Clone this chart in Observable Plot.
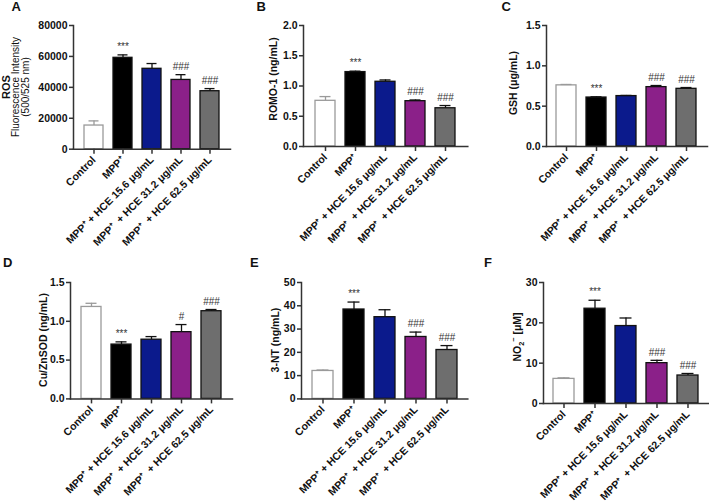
<!DOCTYPE html>
<html><head><meta charset="utf-8">
<script src="https://cdn.jsdelivr.net/npm/d3@7"></script>
<script src="https://cdn.jsdelivr.net/npm/@observablehq/plot@0.6"></script>
<style>
body{margin:0;background:#fff;}
#fig{position:relative;width:709px;height:502px;overflow:hidden;font-family:"Liberation Sans",Arial,sans-serif;background:#fff;}
.panel{position:absolute;}
.letter{position:absolute;font-weight:bold;font-size:13px;line-height:13px;color:#111;}
.ytitle{position:absolute;white-space:nowrap;color:#111;line-height:1;transform:translate(-50%,-50%) rotate(-90deg);}
.ytitle sub,.ytitle sup{font-size:70%;line-height:0;}
</style></head><body><div id="fig"></div>
<script>
// ---- data ----
const categories = ["Control", "MPP⁺", "MPP⁺ + HCE 15.6 μg/mL", "MPP⁺\u00a0 + HCE 31.2 μg/mL", "MPP⁺\u00a0 + HCE 62.5 μg/mL"];
const barFills = ["#ffffff", "#000000", "#0b1a8c", "#8b2089", "#6e6e6e"];
const barStrokes = ["#9a9a9a", "#111111", "#111111", "#111111", "#111111"];

const rosMean = [15300, 59100, 52000, 44800, 37500];
const rosSem = [3000, 1900, 3400, 3400, 1700];
const rosSig = ["", "***", "", "###", "###"];
const rosTicks = [0, 20000, 40000, 60000, 80000];

const romoMean = [0.755, 1.23, 1.07, 0.749, 0.632];
const romoSem = [0.07, 0.015, 0.03, 0.02, 0.045];
const romoSig = ["", "***", "", "###", "###"];
const romoTicks = [0, 0.5, 1.0, 1.5, 2.0];

const gshMean = [0.758, 0.607, 0.625, 0.736, 0.715];
const gshSem = [0.011, 0.009, 0.008, 0.02, 0.016];
const gshSig = ["", "***", "", "###", "###"];
const gshTicks = [0, 0.5, 1.0, 1.5];

const sodMean = [1.185, 0.70, 0.763, 0.860, 1.130];
const sodSem = [0.047, 0.035, 0.04, 0.098, 0.022];
const sodSig = ["", "***", "", "#", "###"];
const sodTicks = [0, 0.5, 1.0, 1.5];

const ntMean = [12.0, 38.4, 35.1, 26.6, 21.0];
const ntSem = [0.4, 3.2, 3.2, 2.1, 1.9];
const ntSig = ["", "***", "", "###", "###"];
const ntTicks = [0, 10, 20, 30, 40, 50];

const no2Mean = [6.1, 23.5, 19.2, 10.0, 6.94];
const no2Sem = [0.26, 2.1, 2.0, 0.7, 0.5];
const no2Sig = ["", "***", "", "###", "###"];
const no2Ticks = [0, 10, 20, 30];

const f1 = d3.format(".1f"), f0 = d => String(d);

const panels = [
  {letter: "A", mean: rosMean, sem: rosSem, sig: rosSig, ticks: rosTicks, fmt: f0,
   titles: [["ROS", "bold", 11, 6, 87], ["Fluorescence Intensity", "normal", 10, 15.5, 87], ["(500/525 nm)", "normal", 10, 26, 87]],
   axisX: 73, yTop: 25, y0: 148.7, xEnd: 230, lx: 11.5, ly: 0},
  {letter: "B", mean: romoMean, sem: romoSem, sig: romoSig, ticks: romoTicks, fmt: f1,
   titles: [["ROMO-1 (ng/mL)", "bold", 10.5, 273.3, 79]],
   axisX: 302.7, yTop: 25, y0: 146, xEnd: 467, lx: 256.5, ly: 0},
  {letter: "C", mean: gshMean, sem: gshSem, sig: gshSig, ticks: gshTicks, fmt: f1,
   titles: [["GSH (μg/mL)", "bold", 10.5, 513.3, 83]],
   axisX: 546, yTop: 25, y0: 146, xEnd: 707, lx: 501.5, ly: 0},
  {letter: "D", mean: sodMean, sem: sodSem, sig: sodSig, ticks: sodTicks, fmt: f1,
   titles: [["Cu/ZnSOD (ng/mL)", "bold", 10.5, 43.3, 340]],
   axisX: 70, yTop: 282.3, y0: 398.7, xEnd: 232, lx: 3, ly: 256.3},
  {letter: "E", mean: ntMean, sem: ntSem, sig: ntSig, ticks: ntTicks, fmt: f0,
   titles: [["3-NT (ng/mL)", "bold", 10.5, 275, 340]],
   axisX: 300.7, yTop: 282.3, y0: 398.7, xEnd: 467, lx: 250, ly: 256.3},
  {letter: "F", mean: no2Mean, sem: no2Sem, sig: no2Sig, ticks: no2Ticks, fmt: f0,
   titles: [["NO<sub>2</sub><sup>−</sup> [μM]", "bold", 10.5, 516.7, 337]],
   axisX: 543.3, yTop: 282.3, y0: 403.3, xEnd: 709, lx: 484, ly: 256.3}
];

const fig = document.getElementById("fig");
const font = '"Liberation Sans", Arial, sans-serif';

for (const p of panels) {
  const ml = 70, mt = 22, mb = 100, mr = 4;
  const plotW = p.xEnd - p.axisX, plotH = p.y0 - p.yTop;
  const W = ml + plotW + mr, H = mt + plotH + mb;
  const data = categories.map((c, i) => ({
    cat: c, mean: p.mean[i], top: p.mean[i] + p.sem[i], sig: p.sig[i],
    fill: barFills[i], stroke: barStrokes[i]
  }));
  const yMax = p.ticks[p.ticks.length - 1];
  const chart = Plot.plot({
    width: W, height: H, marginLeft: ml, marginRight: mr, marginTop: mt, marginBottom: mb,
    style: {background: "transparent", overflow: "visible", fontFamily: font, color: "#222", maxWidth: "none"},
    x: {domain: categories, paddingInner: 0.33, paddingOuter: 0.33, axis: null},
    y: {domain: [0, yMax], axis: null},
    marks: [
      Plot.ruleX(data, {x: "cat", y1: "mean", y2: "top", stroke: "stroke", strokeWidth: 1.3}),
      Plot.barY(data, {x: "cat", y: "mean", fill: "fill", stroke: "stroke", strokeWidth: 1.3}),
      Plot.tickY(data, {x: "cat", y: "top", stroke: "stroke", strokeWidth: 1.3, insetLeft: 4.5, insetRight: 4.5}),
      Plot.text(data, {x: "cat", y: "top", text: "sig", dy: -8, fontSize: 10, fill: "#333"}),
      Plot.axisY({ticks: p.ticks, tickFormat: p.fmt, tickSize: 4, tickPadding: 2, fontSize: 10.5, fontWeight: "bold", label: null, stroke: "#333", strokeWidth: 1.5, fill: "#111"}),
      Plot.axisX({tickRotate: -45, tickSize: 5, tickPadding: 4, fontSize: 10.5, fontWeight: "bold", label: null, stroke: "#333", strokeWidth: 1.5, fill: "#111"}),
      Plot.frame({anchor: "left", stroke: "#333", strokeWidth: 1.5}),
      Plot.frame({anchor: "bottom", stroke: "#333", strokeWidth: 1.5})
    ]
  });
  const wrap = document.createElement("div");
  wrap.className = "panel";
  wrap.style.left = (p.axisX - ml) + "px";
  wrap.style.top = (p.yTop - mt) + "px";
  wrap.appendChild(chart);
  fig.appendChild(wrap);
  for (const [t, w, fs, cx, cy] of p.titles) {
    const d = document.createElement("div");
    d.className = "ytitle";
    d.innerHTML = t;
    d.style.fontWeight = w;
    d.style.fontSize = fs + "px";
    d.style.left = cx + "px";
    d.style.top = cy + "px";
    fig.appendChild(d);
  }
  const L = document.createElement("div");
  L.className = "letter";
  L.textContent = p.letter;
  L.style.left = p.lx + "px";
  L.style.top = p.ly + "px";
  fig.appendChild(L);
}
</script></body></html>
